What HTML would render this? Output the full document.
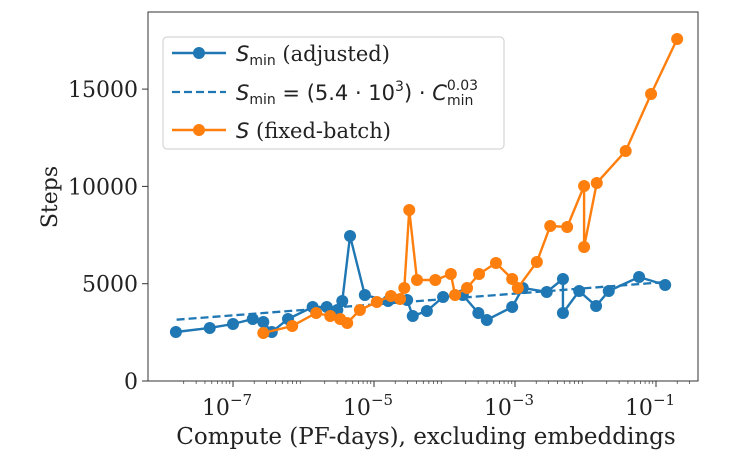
<!DOCTYPE html>
<html><head><meta charset="utf-8"><style>
body{margin:0;background:#fff}
svg text{font-family:"DejaVu Serif","Liberation Serif",serif;fill:#222}
.m{font-family:"DejaVu Sans","Liberation Sans",sans-serif}
</style></head><body>
<svg id="c" width="754" height="470"></svg>
<script>
const blueLogX=[-7.81,-7.33,-7.0,-6.72,-6.57,-6.45,-6.22,-5.87,-5.67,-5.52,-5.45,-5.34,-5.13,-4.80,-4.53,-4.45,-4.25,-4.02,-3.74,-3.52,-3.40,-3.04,-2.89,-2.55,-2.32,-2.32,-2.09,-1.85,-1.67,-1.24,-0.87];
const blueSteps=[2518,2724,2929,3186,3032,2518,3186,3803,3803,3649,4111,7452,4420,4111,4163,3340,3597,4317,4420,3495,3135,3803,4779,4574,5242,3495,4625,3854,4625,5345,4933];
const orangeLogX=[-6.57,-6.16,-5.82,-5.62,-5.48,-5.38,-5.20,-4.96,-4.76,-4.63,-4.57,-4.50,-4.39,-4.13,-3.91,-3.85,-3.68,-3.51,-3.27,-3.04,-2.96,-2.69,-2.50,-2.26,-2.02,-2.02,-1.84,-1.43,-1.07,-0.70];
const orangeSteps=[2467,2827,3495,3340,3186,2981,3649,4060,4368,4214,4779,8788,5190,5190,5499,4420,4779,5499,6064,5242,4779,6116,7965,7914,10021,6887,10175,11820,14749,17575];
const fitCoef=5400, fitExp=0.03, fitRange=[-7.8,-0.87];
const yTicks=[0,5000,10000,15000];
const xTickExps=[-7,-5,-3,-1];

const NS="http://www.w3.org/2000/svg", svg=document.getElementById('c');
const L=148,R=698,T=12,B=381;
const xs=e=>233+(e+7)*70.5;
const ys=v=>B-v/5000*97.3;
function mk(t,a,p){const el=document.createElementNS(NS,t);for(const k in a)el.setAttribute(k,a[k]);(p||svg).appendChild(el);return el;}

const frame=mk('rect',{x:L,y:T,width:R-L,height:B-T,fill:'none',stroke:'#333','stroke-width':1});



yTicks.forEach(v=>{
  const y=ys(v);
  const tk=mk('line',{x1:L-6,x2:L,y1:y,y2:y,stroke:'#333'});
  
  
  const t=mk('text',{x:L-10,y:y+8,'text-anchor':'end','font-size':22});
  t.textContent=v;
  
  
});
xTickExps.forEach(e=>{
  const x=xs(e);
  const tk=mk('line',{x1:x,x2:x,y1:B,y2:B+6,stroke:'#333'});
  
  
  const t=mk('text',{x:x-6,y:B+34,'text-anchor':'middle','font-size':22});
  t.textContent='10';
  const s=mk('tspan',{dy:-10,'font-size':15},t);s.textContent='\u2212'+(-e);
  
  
});
for(let e=-8;e<=0;e++){for(let m=2;m<10;m++){const lx=e+Math.log10(m);const x=xs(lx);if(x<L||x>R)continue;
  const tk=mk('line',{x1:x,x2:x,y1:B,y2:B+3,stroke:'#333','stroke-width':0.7});
  
  }}

const yl=mk('text',{x:0,y:0,'font-size':22,'text-anchor':'middle',transform:'translate(57,197) rotate(-90)'});
yl.textContent='Steps';


const xl=mk('text',{x:426,y:444,'font-size':23,'text-anchor':'middle'});
xl.textContent='Compute (PF-days), excluding embeddings';



const fx=[fitRange[0],fitRange[1]];
const fit=mk('line',{x1:xs(fx[0]),y1:ys(fitCoef*Math.pow(10,fx[0]*fitExp)),x2:xs(fx[1]),y2:ys(fitCoef*Math.pow(10,fx[1]*fitExp)),stroke:'#1f77b4','stroke-width':2.3,'stroke-dasharray':'8,4'});



function series(lx,vals,col,name){
  const g=mk('g',{});
  
  
  mk('polyline',{points:lx.map((e,i)=>xs(e)+','+ys(vals[i])).join(' '),fill:'none',stroke:col,'stroke-width':2.4},g);
  lx.forEach((e,i)=>{
    const c=mk('circle',{cx:xs(e),cy:ys(vals[i]),r:6,fill:col},g);
    
    
  });
}
series(blueLogX,blueSteps,'#1f77b4','smin-adjusted-series');
series(orangeLogX,orangeSteps,'#ff7f0e','s-fixed-batch-series');

const lg=mk('g',{});


mk('rect',{x:163,y:37,width:341,height:112,rx:4,fill:'#fff','fill-opacity':0.85,stroke:'#ccc'},lg);
mk('line',{x1:172,x2:226,y1:53,y2:53,stroke:'#1f77b4','stroke-width':2.4},lg);
mk('circle',{cx:199,cy:53,r:6,fill:'#1f77b4'},lg);
mk('line',{x1:172,x2:226,y1:92,y2:92,stroke:'#1f77b4','stroke-width':2.3,'stroke-dasharray':'8,4'},lg);
mk('line',{x1:172,x2:226,y1:130,y2:130,stroke:'#ff7f0e','stroke-width':2.4},lg);
mk('circle',{cx:199,cy:130,r:6,fill:'#ff7f0e'},lg);
const t1=mk('text',{x:236,y:61,'font-size':21},lg);
t1.innerHTML='<tspan class="m" font-style="italic">S</tspan><tspan class="m" font-size="14" dy="4">min</tspan><tspan dy="-4"> (adjusted)</tspan>';


const t2=mk('text',{x:236,y:100,'font-size':21,class:'m'},lg);
t2.innerHTML='<tspan font-style="italic">S</tspan><tspan font-size="14" dy="4">min</tspan><tspan dy="-4"> = (5.4 · 10</tspan><tspan font-size="14" dy="-9">3</tspan><tspan dy="9">) · </tspan><tspan font-style="italic">C</tspan><tspan font-size="14" dy="-10">0.03</tspan><tspan font-size="14" dx="-31" dy="15">min</tspan>';


const t3=mk('text',{x:236,y:138,'font-size':21},lg);
t3.innerHTML='<tspan class="m" font-style="italic">S</tspan> (fixed-batch)';


</script>
</body></html>
